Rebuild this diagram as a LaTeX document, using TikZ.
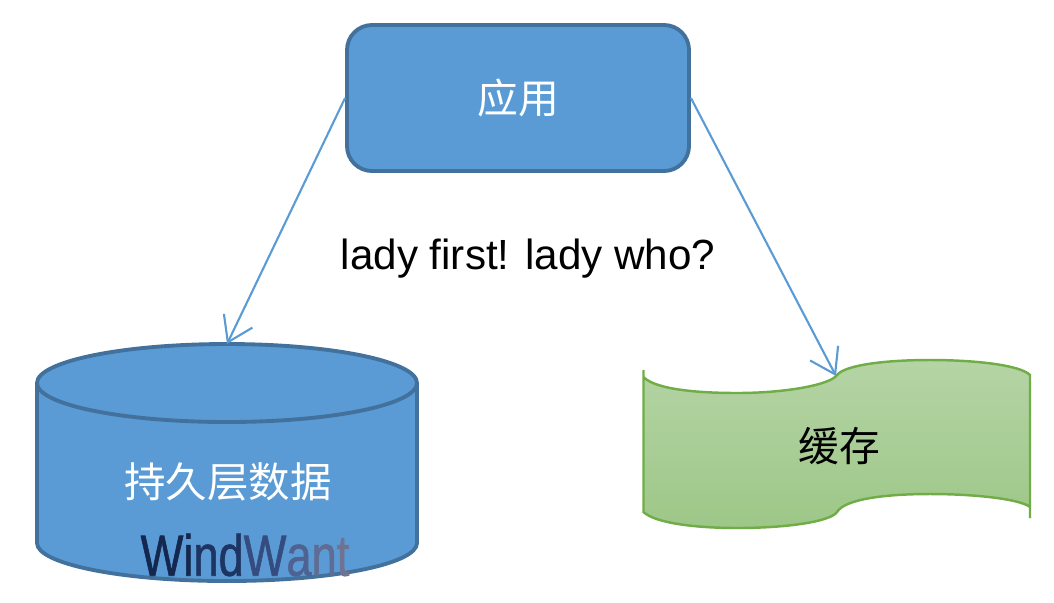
\documentclass[tikz,border=0pt]{standalone}
\usepackage{fontspec}
\setmainfont{Liberation Sans}
\newfontfamily\cjk{Noto Sans CJK SC}
\newfontfamily\markfont[FakeBold=1.2]{Liberation Sans}
\usetikzlibrary{arrows.meta}
\definecolor{boxfill}{HTML}{5B9BD5}
\definecolor{boxline}{HTML}{41719C}
\definecolor{wavetop}{HTML}{B5D4A5}
\definecolor{wavebot}{HTML}{9DC788}
\definecolor{waveline}{HTML}{70AD47}
\tikzset{
	boxstyle/.style={draw=boxline, fill=boxfill, line width=1.1pt, text=white, font=\cjk\fontsize{11.6}{14}\selectfont},
	link/.style={-{Straight Barb[length=6.8pt,width=9pt]}, boxfill, line width=0.6pt}
}

\begin{document}
\begin{tikzpicture}[>=Latex]
		\useasboundingbox (0,0) rectangle (10.54,6.02);
		
		% Application box
		\node[boxstyle, rounded corners=0.25cm, minimum width=3.42cm, minimum height=1.46cm] (app) at (5.18,5.04) {应用};
		
		% Persistent data
		\draw[boxstyle] (0.37,2.19) arc (180:0:1.90 and 0.39) -- (4.17,0.59) arc (360:180:1.90 and 0.38) -- cycle;
		\draw[draw=boxline, line width=1.1pt] (0.37,2.19) arc (180:360:1.90 and 0.39);
		\coordinate (dbtop) at (2.27,2.58);
		\node[text=white, font=\cjk\fontsize{11.8}{14}\selectfont] (dbtext) at (2.28,1.20) {持久层数据};
		\node[font=\markfont\fontsize{16.5}{20}\selectfont, xscale=0.78, transform shape, inner sep=0pt] (mark) at (2.45,0.47) {\textcolor[HTML]{14284F}{Wi}\textcolor[HTML]{1E3563}{nd}\textcolor[HTML]{344C80}{W}\textcolor[HTML]{4F6393}{a}\textcolor[HTML]{5F6C94}{n}\textcolor[HTML]{6F7391}{t}};
		
		% Cache banner
		\draw[draw=waveline, line width=0.7pt, top color=wavetop, bottom color=wavebot]
			(6.435,2.32) -- (6.435,2.25)
			.. controls (6.55,2.13) and (6.95,2.09) .. (7.37,2.09)
			.. controls (7.85,2.09) and (8.30,2.17) .. (8.37,2.27)
			.. controls (8.45,2.37) and (8.85,2.42) .. (9.30,2.42)
			.. controls (9.75,2.42) and (10.20,2.37) .. (10.30,2.27)
			-- (10.30,0.84) -- (10.30,0.95)
			.. controls (10.20,1.03) and (9.75,1.08) .. (9.30,1.08)
			.. controls (8.85,1.08) and (8.45,1.03) .. (8.37,0.90)
			.. controls (8.30,0.80) and (7.85,0.74) .. (7.37,0.74)
			.. controls (6.95,0.74) and (6.55,0.79) .. (6.435,0.90)
			-- cycle;
		\coordinate (wavetip) at (8.36,2.26);
		\node[font=\cjk\fontsize{11.6}{14}\selectfont] (cache) at (8.39,1.56) {缓存};
		
		% Caption
		\node[font=\fontsize{12}{14}\selectfont] (caption) at (5.28,3.43) {lady first! lady who?};
		
		% Arrows
		\draw[link] (app.west) -- (dbtop);
		\draw[link] (app.east) -- (wavetip);
		
	\end{tikzpicture}
\end{document}
